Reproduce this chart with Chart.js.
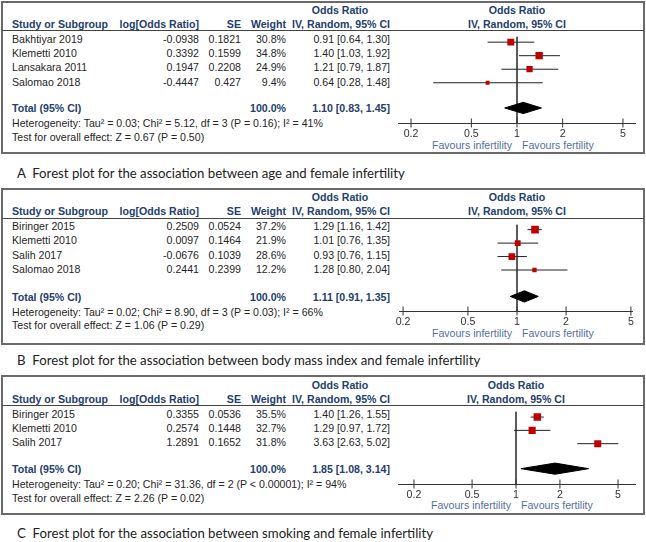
<!DOCTYPE html>
<html><head><meta charset="utf-8">
<script src="https://cdn.jsdelivr.net/npm/chart.js@4.4.1/dist/chart.umd.min.js"></script>
<style>
body{margin:0;background:#fff;}
#root{position:relative;width:646px;height:542px;overflow:hidden;font-family:"Liberation Sans",Arial,sans-serif;background:#fff;}
.t{position:absolute;white-space:pre;font-size:10.6px;line-height:12px;color:#262626;}
.h{font-weight:bold;color:#23406e;}
.fav{color:#5470a0;}
.cap{font-family:Lato,"Open Sans",sans-serif;font-size:13px;color:#222;line-height:16px;}
.box{position:absolute;box-sizing:border-box;border:2px solid #6a6a6a;}
.rule{position:absolute;height:1px;background:#444;}
canvas{position:absolute;}
</style></head>
<body><div id="root"></div>
<script>
// ---------- DATA ----------
const studiesA = ['Bakhtiyar 2019', 'Klemetti 2010', 'Lansakara 2011', 'Salomao 2018'];
const logOrA   = [-0.0938, 0.3392, 0.1947, -0.4447];
const seA      = [0.1821, 0.1599, 0.2208, 0.427];
const weightA  = [30.8, 34.8, 24.9, 9.4];
const orA      = [0.91, 1.40, 1.21, 0.64];
const loA      = [0.64, 1.03, 0.79, 0.28];
const hiA      = [1.30, 1.92, 1.87, 1.48];
const totalA   = [1.10, 0.83, 1.45];

const studiesB = ['Biringer 2015', 'Klemetti 2010', 'Salih 2017', 'Salomao 2018'];
const logOrB   = [0.2509, 0.0097, -0.0676, 0.2441];
const seB      = [0.0524, 0.1464, 0.1039, 0.2399];
const weightB  = [37.2, 21.9, 28.6, 12.2];
const orB      = [1.29, 1.01, 0.93, 1.28];
const loB      = [1.16, 0.76, 0.76, 0.80];
const hiB      = [1.42, 1.35, 1.15, 2.04];
const totalB   = [1.11, 0.91, 1.35];

const studiesC = ['Biringer 2015', 'Klemetti 2010', 'Salih 2017'];
const logOrC   = [0.3355, 0.2574, 1.2891];
const seC      = [0.0536, 0.1448, 0.1652];
const weightC  = [35.5, 32.7, 31.8];
const orC      = [1.40, 1.29, 3.63];
const loC      = [1.26, 0.97, 2.63];
const hiC      = [1.55, 1.72, 5.02];
const totalC   = [1.85, 1.08, 3.14];

const hetTau2 = ['0.03', '0.02', '0.20'];
const hetChi2 = ['5.12', '8.90', '31.36'];
const hetDf   = [3, 3, 2];
const hetP    = ['= 0.16', '= 0.03', '< 0.00001'];
const hetI2   = [41, 66, 94];
const zVal    = ['0.67', '1.06', '2.26'];
const zP      = ['0.50', '0.29', '0.02'];

const captions = [
  'A  Forest plot for the association between age and female infertility',
  'B  Forest plot for the association between body mass index and female infertility',
  'C  Forest plot for the association between smoking and female infertility'
];

const tickValues = [0.2, 0.5, 1, 2, 5];
const tickLabels = ['0.2', '0.5', '1', '2', '5'];
const nullValue = 1;

// ---------- LAYOUT ----------
const geo = [
  {boxTop:1,   boxBot:154, hdr1:9.5, hdr2:23.5, line:30.5, row0:37,   step:14.4, total:107,   het:123,   test:137,   axis:122.5, fav:144.5, cap:172.5, xl:398, xr:635, x1:517, ppd:151.6, tpad:5},
  {boxTop:188, boxBot:345, hdr1:196.5, hdr2:211, line:218.5, row0:224.5, step:14.3, total:295.5, het:311.5, test:325, axis:310.5, fav:332.5, cap:359.5, xl:399, xr:632, x1:517, ppd:163, tpad:4.5},
  {boxTop:375, boxBot:515, hdr1:384.5, hdr2:398.5, line:405.5, row0:412, step:14.3, total:467.5, het:483.5, test:497.5, axis:483, fav:504.5, cap:533, xl:398, xr:635, x1:516, ppd:146, tpad:5}
];

const panels = [
  {studies:studiesA, logOr:logOrA, se:seA, weight:weightA, or:orA, lo:loA, hi:hiA, total:totalA},
  {studies:studiesB, logOr:logOrB, se:seB, weight:weightB, or:orB, lo:loB, hi:hiB, total:totalB},
  {studies:studiesC, logOr:logOrC, se:seC, weight:weightC, or:orC, lo:loC, hi:hiC, total:totalC}
];

const root = document.getElementById('root');
function el(cls, css) {
  const d = document.createElement('div');
  d.className = cls; d.style.cssText = css || '';
  root.appendChild(d); return d;
}
function txt(s, x, y, cls, align) {
  const d = document.createElement('div');
  d.className = 't ' + (cls || '');
  d.textContent = s;
  d.style.left = x + 'px'; d.style.top = y + 'px';
  const tx = align === 'r' ? '-100%' : align === 'c' ? '-50%' : '0';
  d.style.transform = 'translate(' + tx + ',-50%)';
  root.appendChild(d);
  return d;
}

Chart.defaults.font.family = '"Liberation Sans", Arial, sans-serif';
Chart.defaults.color = '#333';

const COL = {study:12, logor:199, se:241, weight:286, ci:390, ciHead:340};
const fmtCI = (a, b, c) => a.toFixed(2) + ' [' + b.toFixed(2) + ', ' + c.toFixed(2) + ']';
const capEls = [];

panels.forEach((p, k) => {
  const g = geo[k];
  el('box', 'left:1px;top:' + g.boxTop + 'px;width:644px;height:' + (g.boxBot - g.boxTop) + 'px;');
  el('rule', 'left:2px;top:' + Math.floor(g.line) + 'px;width:642px;');
  // headers
  txt('Odds Ratio', COL.ciHead, g.hdr1, 'h', 'c');
  txt('Odds Ratio', g.x1, g.hdr1, 'h', 'c');
  txt('Study or Subgroup', COL.study, g.hdr2, 'h');
  txt('log[Odds Ratio]', COL.logor, g.hdr2, 'h', 'r');
  txt('SE', COL.se, g.hdr2, 'h', 'r');
  txt('Weight', COL.weight, g.hdr2, 'h', 'r');
  txt('IV, Random, 95% CI', COL.ci, g.hdr2, 'h', 'r');
  txt('IV, Random, 95% CI', g.x1, g.hdr2, 'h', 'c');
  // rows
  p.studies.forEach((s, i) => {
    const y = g.row0 + i * g.step + 1.5;
    txt(s, COL.study, y);
    txt(String(p.logOr[i]), COL.logor, y, '', 'r');
    txt(String(p.se[i]), COL.se, y, '', 'r');
    txt(p.weight[i].toFixed(1) + '%', COL.weight, y, '', 'r');
    txt(fmtCI(p.or[i], p.lo[i], p.hi[i]), COL.ci, y, '', 'r');
  });
  const ty = g.total + 1;
  txt('Total (95% CI)', COL.study, ty, 'h');
  txt('100.0%', COL.weight, ty, 'h', 'r');
  txt(fmtCI(p.total[0], p.total[1], p.total[2]), COL.ci, ty, 'h', 'r');
  txt('Heterogeneity: Tau\u00b2 = ' + hetTau2[k] + '; Chi\u00b2 = ' + hetChi2[k] + ', df = ' + hetDf[k] +
      ' (P ' + hetP[k] + '); I\u00b2 = ' + hetI2[k] + '%', COL.study, g.het);
  txt('Test for overall effect: Z = ' + zVal[k] + ' (P = ' + zP[k] + ')', COL.study, g.test);
  txt('Favours infertility', g.x1 - 5, g.fav, 'fav', 'r');
  txt('Favours fertility', g.x1 + 5, g.fav, 'fav');
  const cp = txt(captions[k], 17, g.cap, 'cap');
  capEls.push(cp);

  // ---------- CHART ----------
  const padX = 12, bottomH = 26;
  const W = g.xr - g.xl + 2 * padX, H = Math.round(g.axis - g.line) + bottomH;
  const c = document.createElement('canvas');
  c.width = W; c.height = H;
  c.style.left = (g.xl - padX) + 'px'; c.style.top = Math.round(g.line) + 'px';
  c.style.width = W + 'px'; c.style.height = H + 'px';
  root.appendChild(c);
  const top = Math.round(g.line);
  const yMin = (top - g.row0) / g.step, yMax = (top + (H - bottomH) - g.row0) / g.step;
  const yTot = (g.total - g.row0) / g.step, dh = 6 / g.step;
  const xMin = Math.pow(10, -(g.x1 - g.xl) / g.ppd), xMax = Math.pow(10, (g.xr - g.x1) / g.ppd);

  const datasets = [];
  // squares (drawn on top)
  datasets.push({
    data: p.or.map((v, i) => ({x: v, y: i})),
    showLine: false, pointStyle: 'rect',
    pointRadius: ctx => 1.25 * Math.sqrt(p.weight[ctx.dataIndex]) / Math.SQRT2,
    pointBackgroundColor: '#c00000', pointBorderWidth: 0, pointBorderColor: '#c00000'
  });
  // diamond
  datasets.push({
    data: [{x: p.total[1], y: yTot}, {x: p.total[0], y: yTot - dh}, {x: p.total[2], y: yTot},
           {x: p.total[0], y: yTot + dh}, {x: p.total[1], y: yTot}],
    fill: 'shape', backgroundColor: '#000', borderColor: '#000', borderWidth: 1,
    pointRadius: 0, tension: 0
  });
  // confidence intervals
  p.studies.forEach((s, i) => datasets.push({
    data: [{x: p.lo[i], y: i}, {x: p.hi[i], y: i}],
    borderColor: '#222', borderWidth: 1, pointRadius: 0
  }));
  // axis tick marks
  datasets.push({
    data: tickValues.map(v => ({x: v, y: yMax})),
    showLine: false, pointStyle: 'line', pointRotation: 90, pointRadius: 4.5,
    pointBorderColor: '#333', pointBorderWidth: 1, clip: false
  });
  // line of no effect
  datasets.push({
    data: [{x: nullValue, y: yMin}, {x: nullValue, y: yMax}],
    borderColor: '#444', borderWidth: 1, pointRadius: 0
  });

  new Chart(c, {
    type: 'line',
    data: {datasets},
    options: {
      responsive: false, animation: false, devicePixelRatio: 1,
      layout: {padding: {left: padX, right: padX, top: 0, bottom: 0}},
      plugins: {legend: {display: false}, tooltip: {enabled: false}},
      events: [],
      scales: {
        x: {
          type: 'logarithmic', min: xMin, max: xMax,
          afterBuildTicks: s => { s.ticks = tickValues.map(v => ({value: v})); },
          afterFit: s => { s.height = bottomH; },
          ticks: {callback: (v, i) => tickLabels[i], autoSkip: false, maxRotation: 0, minRotation: 0,
                  padding: g.tpad, color: '#333', font: {size: 10.6}},
          grid: {display: false, drawTicks: false},
          border: {display: true, color: '#333', width: 1}
        },
        y: {type: 'linear', reverse: true, min: yMin, max: yMax, display: false}
      }
    }
  });
});

// fit caption font so that caption A spans its measured width
(function () {
  const target = 388;
  const w = capEls[0].getBoundingClientRect().width;
  const fs = 13 * target / w;
  capEls.forEach(e => e.style.fontSize = fs.toFixed(2) + 'px');
})();
</script>
</body></html>
